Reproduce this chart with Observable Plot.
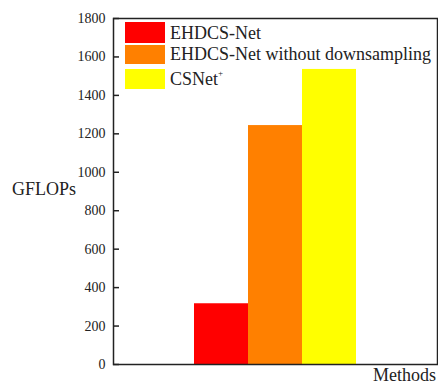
<!DOCTYPE html>
<html><head><meta charset="utf-8">
<script src="https://cdn.jsdelivr.net/npm/d3@7"></script>
<script src="https://cdn.jsdelivr.net/npm/@observablehq/plot@0.6"></script>
<style>
body{margin:0;background:#fff;}
#wrap{position:relative;width:438px;height:385px;font-family:"Liberation Serif",serif;color:#222;}
#wrap svg text{font-family:"Liberation Serif",serif !important;}
.lab{position:absolute;font-size:18px;white-space:nowrap;line-height:1;font-family:"Liberation Serif",serif;}
.sw{position:absolute;width:40px;}
</style></head>
<body><div id="wrap"></div>
<script>
const methods = ["EHDCS-Net", "EHDCS-Net without downsampling", "CSNet+"];
const gflops = [316, 1243, 1535];
const colors = ["#ff0000", "#ff8000", "#ffff00"];
const yTicks = [0, 200, 400, 600, 800, 1000, 1200, 1400, 1600, 1800];

const data = methods.map((m, i) => ({method: m, value: gflops[i]}));

const chart = Plot.plot({
  width: 438, height: 385,
  marginLeft: 113, marginRight: 1, marginTop: 18, marginBottom: 21,
  style: {fontFamily: "Liberation Serif, serif", fontSize: "14px", color: "#222", background: "#fff"},
  x: {domain: methods, paddingInner: 0, paddingOuter: 1.47, axis: null},
  y: {domain: [0, 1800], ticks: yTicks},
  color: {domain: methods, range: colors},
  marks: [
    Plot.barY(data, {x: "method", y: "value", fill: "method"}),
    Plot.axisY({ticks: yTicks, tickSize: -6, tickPadding: 14, label: null, tickFormat: d => String(d), strokeWidth: 1.5}),
    Plot.frame({stroke: "#222", strokeWidth: 1.5})
  ]
});
chart.style.fontFamily = '"Liberation Serif", serif';
const wrap = document.getElementById("wrap");
wrap.appendChild(chart);

function addLabel(text, left, top, html) {
  const d = document.createElement("div");
  d.className = "lab";
  if (html) d.innerHTML = text; else d.textContent = text;
  d.style.left = left + "px"; d.style.top = top + "px";
  wrap.appendChild(d);
  return d;
}
addLabel("GFLOPs", 12, 180);
addLabel("Methods", 373, 366);

const swTops = [22, 45, 69];
const swH = [21, 19, 20];
const textTops = [24, 45, 70];
methods.forEach((m, i) => {
  const s = document.createElement("div");
  s.className = "sw";
  s.style.left = "125px"; s.style.top = swTops[i] + "px"; s.style.height = swH[i] + "px";
  s.style.background = colors[i];
  wrap.appendChild(s);
  const label = m.endsWith("+") ? m.slice(0, -1) + '<sup style="font-size:9px;vertical-align:9px;line-height:0">+</sup>' : m;
  addLabel(label, 170, textTops[i], true);
});
</script></body></html>
